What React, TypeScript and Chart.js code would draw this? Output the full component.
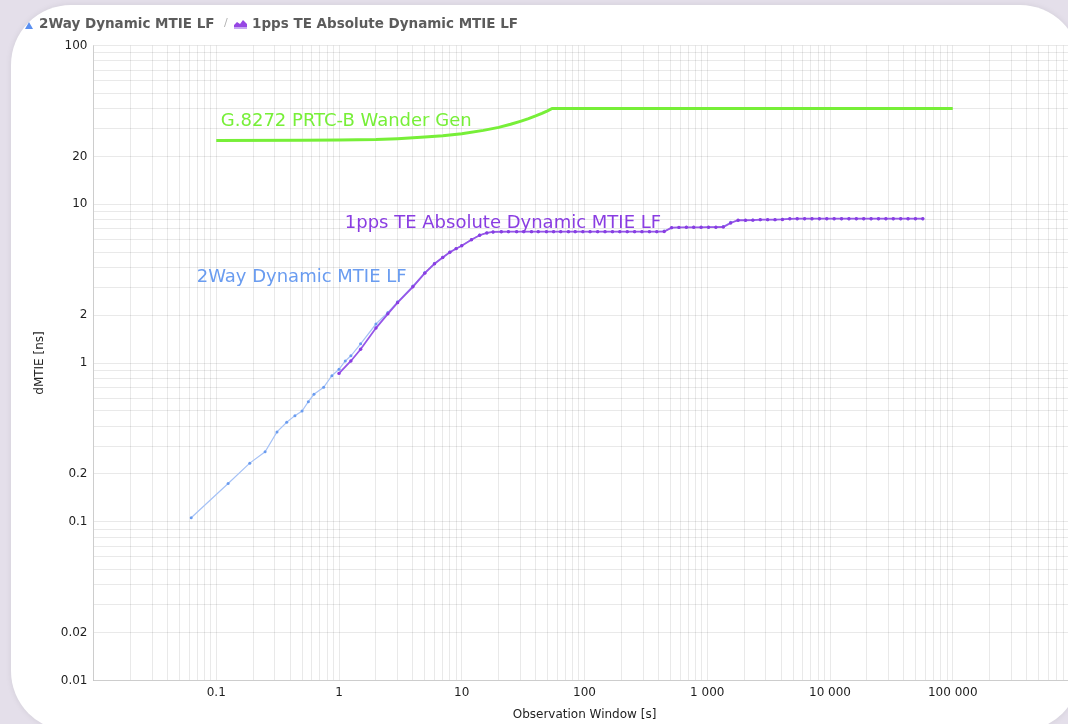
import React, { useEffect, useRef } from "react";
import { Chart, registerables } from "chart.js";

Chart.register(...registerables);

const FONT = '"DejaVu Sans", sans-serif';

// ---- axis tick labels ----
const xTickValues = [0.1, 1, 10, 100, 1000, 10000, 100000];
const xTickLabels = ["0.1", "1", "10", "100", "1 000", "10 000", "100 000"];
const yTickValues = [100, 20, 10, 2, 1, 0.2, 0.1, 0.02, 0.01];
const yTickLabels = ["100", "20", "10", "2", "1", "0.2", "0.1", "0.02", "0.01"];

// ---- G.8272 PRTC-B wander generation mask ----
const maskTau = [0.1, 0.5, 1, 2, 3, 5, 7, 10, 15, 20, 25, 30, 35, 40, 45, 50, 54.5, 100000];
const maskValues = [25.2, 25.3, 25.4, 25.6, 25.9, 26.5, 27.0, 27.8, 29.2, 30.5, 31.9, 33.3, 34.6, 36.0, 37.4, 38.8, 40.1, 40.1];

// ---- 1pps TE Absolute Dynamic MTIE LF ----
const ppsTau = [
  1, 1.25, 1.5, 2, 2.5, 3, 4, 5, 6, 7,
  8, 9, 10, 12, 14, 16, 18, 21, 24, 28,
  32, 37, 42, 49, 56, 64, 74, 84, 97, 111,
  128, 147, 169, 194, 223, 256, 294, 338, 388, 446,
  512, 588, 676, 776, 891, 1024, 1176, 1351, 1552, 1783,
  2048, 2353, 2702, 3104, 3566, 4096, 4705, 5405, 6208, 7131,
  8192, 9410, 10809, 12417, 14263, 16384, 18820, 21619, 24834, 28526,
  32768, 37641, 43238, 49667, 57052,
];
const ppsValues = [
  0.86, 1.03, 1.22, 1.66, 2.04, 2.4, 3.02, 3.68, 4.22, 4.62,
  4.98, 5.25, 5.48, 5.98, 6.38, 6.6, 6.69, 6.71, 6.72, 6.72,
  6.72, 6.72, 6.72, 6.72, 6.72, 6.72, 6.72, 6.72, 6.72, 6.72,
  6.72, 6.72, 6.72, 6.72, 6.72, 6.72, 6.72, 6.72, 6.72, 6.73,
  7.12, 7.15, 7.16, 7.16, 7.16, 7.17, 7.17, 7.19, 7.62, 7.93,
  7.93, 7.94, 8.0, 8.0, 8.0, 8.02, 8.1, 8.11, 8.11, 8.11,
  8.11, 8.11, 8.11, 8.11, 8.11, 8.11, 8.11, 8.11, 8.11, 8.11,
  8.11, 8.11, 8.11, 8.11, 8.11,
];

// ---- 2Way Dynamic MTIE LF ----
const twoWayTau = [
  0.0625, 0.125, 0.1875, 0.25, 0.3125, 0.375, 0.4375, 0.5, 0.5625, 0.625,
  0.75, 0.875, 1, 1.125,
  1.25, 1.5, 2, 2.5, 3, 4, 5, 6, 7,
  8, 9, 10, 12, 14, 16, 18, 21, 24, 28,
  32, 37, 42, 49, 56, 64, 74, 84, 97, 111,
  128, 147, 169, 194, 223, 256, 294, 338, 388, 446,
  512, 588, 676, 776, 891, 1024, 1176, 1351, 1552, 1783,
  2048, 2353, 2702, 3104, 3566, 4096, 4705, 5405, 6208, 7131,
  8192, 9410, 10809, 12417, 14263, 16384, 18820, 21619, 24834, 28526,
  32768, 37641, 43238, 49667, 57052,
];
const twoWayValues = [
  0.106, 0.174, 0.234, 0.276, 0.368, 0.423, 0.466, 0.498, 0.571, 0.635,
  0.703, 0.832, 0.913, 1.03,
  1.11, 1.32, 1.76, 2.08, 2.43, 3.06, 3.71, 4.24, 4.64,
  5.0, 5.26, 5.49, 6.0, 6.4, 6.6, 6.69, 6.71, 6.72, 6.72,
  6.72, 6.72, 6.72, 6.72, 6.72, 6.72, 6.72, 6.72, 6.72, 6.72,
  6.72, 6.72, 6.72, 6.72, 6.72, 6.72, 6.72, 6.72, 6.72, 6.78,
  7.1, 7.14, 7.16, 7.16, 7.16, 7.17, 7.17, 7.24, 7.7, 7.93,
  7.93, 7.95, 8.0, 8.0, 8.0, 8.05, 8.1, 8.11, 8.11, 8.11,
  8.11, 8.11, 8.11, 8.11, 8.11, 8.11, 8.11, 8.11, 8.11, 8.11,
  8.11, 8.11, 8.11, 8.11, 8.11,
];

// ---- colours ----
const GREEN = "#77ef38";
const PURPLE = "#8a3de2";
const PURPLE_LINE = "#9656e8";
const BLUE = "#6a9cf0";
const BLUE_LINE = "#a6c2f6";

// in-chart series labels, anchored in data coordinates
const seriesLabels = [
  { text: "G.8272 PRTC-B Wander Gen", x: 0.109, y: 31.1, color: GREEN },
  { text: "1pps TE Absolute Dynamic MTIE LF", x: 1.115, y: 7.06, color: PURPLE },
  { text: "2Way Dynamic MTIE LF", x: 0.0693, y: 3.25, color: BLUE },
];

function zip(xs: number[], ys: number[]) {
  return xs.map((x, i) => ({ x, y: ys[i] }));
}

function logGridTicks(minExp: number, maxExp: number) {
  const t: { value: number }[] = [];
  for (let e = minExp; e < maxExp; e++) {
    for (let m = 1; m <= 9; m++) t.push({ value: Number((m * Math.pow(10, e)).toPrecision(6)) });
  }
  t.push({ value: Math.pow(10, maxExp) });
  return t;
}

function labelFor(v: number, values: number[], labels: string[]) {
  const i = values.findIndex((t) => Math.abs(t - v) / t < 1e-6);
  return i >= 0 ? labels[i] : "";
}

const labelPlugin = {
  id: "seriesLabels",
  afterDatasetsDraw(chart: any) {
    const { ctx, scales } = chart;
    ctx.save();
    ctx.font = `18px ${FONT}`;
    ctx.textBaseline = "alphabetic";
    ctx.textAlign = "left";
    for (const l of seriesLabels) {
      ctx.fillStyle = l.color;
      ctx.fillText(l.text, scales.x.getPixelForValue(l.x), scales.y.getPixelForValue(l.y));
    }
    ctx.restore();
  },
};

const CANVAS_W = 1100;
const CANVAS_H = 724;

export default function App() {
  const ref = useRef<HTMLCanvasElement>(null);

  useEffect(() => {
    const gridColor = "rgba(0,0,0,0.085)";
    const chart = new Chart(ref.current!, {
      type: "line",
      data: {
        datasets: [
          {
            label: "1pps TE Absolute Dynamic MTIE LF",
            data: zip(ppsTau, ppsValues),
            borderColor: PURPLE_LINE,
            backgroundColor: PURPLE,
            borderWidth: 1.8,
            pointRadius: 1.7,
            pointBorderWidth: 0,
            pointBackgroundColor: PURPLE,
            tension: 0,
            order: 1,
          },
          {
            label: "2Way Dynamic MTIE LF",
            data: zip(twoWayTau, twoWayValues),
            borderColor: BLUE_LINE,
            backgroundColor: BLUE,
            borderWidth: 1.2,
            pointRadius: 1.5,
            pointBorderWidth: 0,
            pointBackgroundColor: BLUE,
            tension: 0,
            order: 2,
          },
          {
            label: "G.8272 PRTC-B Wander Gen",
            data: zip(maskTau, maskValues),
            borderColor: GREEN,
            borderWidth: 3,
            pointRadius: 0,
            tension: 0,
            order: 3,
          },
        ],
      },
      options: {
        animation: false,
        responsive: false,
        devicePixelRatio: 1,
        events: [],
        layout: { padding: { left: 0, right: CANVAS_W - 1075.5, top: 45.5, bottom: 0 } },
        plugins: { legend: { display: false }, tooltip: { enabled: false } },
        scales: {
          x: {
            type: "logarithmic",
            min: 0.01,
            max: 1000000,
            afterBuildTicks: (scale: any) => {
              scale.ticks = logGridTicks(-2, 6);
            },
            afterFit: (scale: any) => {
              scale.height = CANVAS_H - 680.5;
            },
            grid: { color: gridColor, lineWidth: 1, drawTicks: false },
            border: { display: true, color: "rgba(0,0,0,0.12)" },
            ticks: {
              autoSkip: false,
              maxRotation: 0,
              minRotation: 0,
              padding: 5,
              color: "#1e1e1e",
              font: { family: FONT, size: 12 },
              callback: (v: any) => labelFor(Number(v), xTickValues, xTickLabels),
            },
            title: {
              display: true,
              text: "Observation Window [s]",
              color: "#222",
              font: { family: FONT, size: 12 },
              padding: { top: 0, bottom: 2 },
            },
          },
          y: {
            type: "logarithmic",
            min: 0.01,
            max: 100,
            afterBuildTicks: (scale: any) => {
              scale.ticks = logGridTicks(-2, 2);
            },
            afterFit: (scale: any) => {
              scale.width = 93.5;
            },
            grid: { color: gridColor, lineWidth: 1, drawTicks: false },
            border: { display: true, color: "rgba(0,0,0,0.12)" },
            ticks: {
              autoSkip: false,
              padding: 6,
              color: "#1e1e1e",
              font: { family: FONT, size: 12 },
              callback: (v: any) => labelFor(Number(v), yTickValues, yTickLabels),
            },
            title: {
              display: true,
              text: "dMTIE [ns]",
              color: "#222",
              font: { family: FONT, size: 12 },
              padding: { top: 33, bottom: 0 },
            },
          },
        },
      },
      plugins: [labelPlugin],
    } as any);
    return () => chart.destroy();
  }, []);

  const legendText: React.CSSProperties = {
    position: "absolute",
    top: 15,
    lineHeight: "16px",
    fontFamily: FONT,
    fontWeight: "bold",
    fontSize: 13.5,
    color: "#5c5c5c",
    whiteSpace: "nowrap",
  };

  return (
    <div
      style={{
        position: "fixed",
        left: 0,
        top: 0,
        width: 1068,
        height: 724,
        overflow: "hidden",
        background: "#e4dfea",
      }}
    >
      <div
        style={{
          position: "absolute",
          left: 11,
          top: 5,
          width: 1069,
          height: 726,
          borderRadius: 60,
          background: "#ffffff",
          overflow: "hidden",
          boxShadow: "0 0 6px rgba(0,0,0,0.08)",
        }}
      >
        <canvas
          ref={ref}
          width={CANVAS_W}
          height={CANVAS_H}
          style={{ position: "absolute", left: -11, top: -5, width: CANVAS_W, height: CANVAS_H }}
        />
      </div>
      <svg style={{ position: "absolute", left: 25, top: 22 }} width={8} height={7}>
        <polygon points="4,0 8,7 0,7" fill="#5a8ff0" />
      </svg>
      <span style={{ ...legendText, left: 39 }}>2Way Dynamic MTIE LF</span>
      <span
        style={{
          ...legendText,
          left: 224,
          fontWeight: "normal",
          fontSize: 11,
          color: "#b0b0b0",
        }}
      >
        /
      </span>
      <svg style={{ position: "absolute", left: 234, top: 20 }} width={13} height={9}>
        <polygon points="0,9 0,5 3,2 6,4 9,0 13,4 13,9" fill="#9646e4" />
        <rect x={0} y={7} width={13} height={2} fill="#c7a6f2" />
      </svg>
      <span style={{ ...legendText, left: 252 }}>1pps TE Absolute Dynamic MTIE LF</span>
    </div>
  );
}
